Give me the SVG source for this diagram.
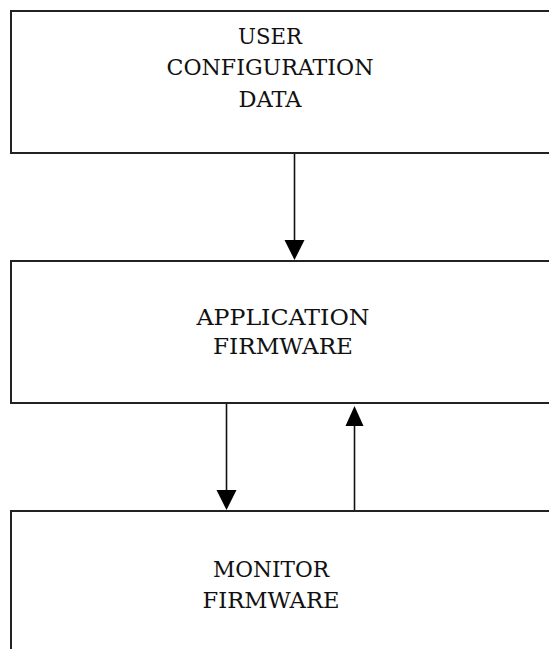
<svg xmlns="http://www.w3.org/2000/svg" width="549" height="649" viewBox="0 0 549 649">
<style>
.box{fill:#fff;stroke:#222;stroke-width:2}
.lbl{font-family:"DejaVu Serif","Liberation Serif",serif;font-size:22px;fill:#111;text-anchor:middle}
.conn{stroke:#111;stroke-width:1.6;fill:none}
.head{fill:#000}
</style>
<rect width="549" height="649" fill="#fff"/>
<g id="user-config">
<rect class="box" x="11" y="11" width="560" height="142"/>
<text class="lbl" x="270" y="44" textLength="64" lengthAdjust="spacingAndGlyphs">USER</text>
<text class="lbl" x="270" y="75" textLength="207" lengthAdjust="spacingAndGlyphs">CONFIGURATION</text>
<text class="lbl" x="270" y="107" textLength="63" lengthAdjust="spacingAndGlyphs">DATA</text>
</g>
<g id="app-firmware">
<rect class="box" x="11" y="261" width="560" height="142"/>
<text class="lbl" x="283" y="325" textLength="173" lengthAdjust="spacingAndGlyphs">APPLICATION</text>
<text class="lbl" x="283" y="354" textLength="140" lengthAdjust="spacingAndGlyphs">FIRMWARE</text>
</g>
<g id="monitor-firmware">
<rect class="box" x="11" y="511" width="560" height="160"/>
<text class="lbl" x="271" y="577" textLength="116" lengthAdjust="spacingAndGlyphs">MONITOR</text>
<text class="lbl" x="271" y="608" textLength="137" lengthAdjust="spacingAndGlyphs">FIRMWARE</text>
</g>
<g id="connectors">
<line class="conn" x1="294.5" y1="154" x2="294.5" y2="242"/>
<polygon class="head" points="284.5,240 304.5,240 294.5,260"/>
<line class="conn" x1="226.5" y1="404" x2="226.5" y2="492"/>
<polygon class="head" points="216.5,490 236.5,490 226.5,510"/>
<line class="conn" x1="354.5" y1="510" x2="354.5" y2="426"/>
<polygon class="head" points="345.5,426 363.5,426 354.5,406"/>
</g>
</svg>
